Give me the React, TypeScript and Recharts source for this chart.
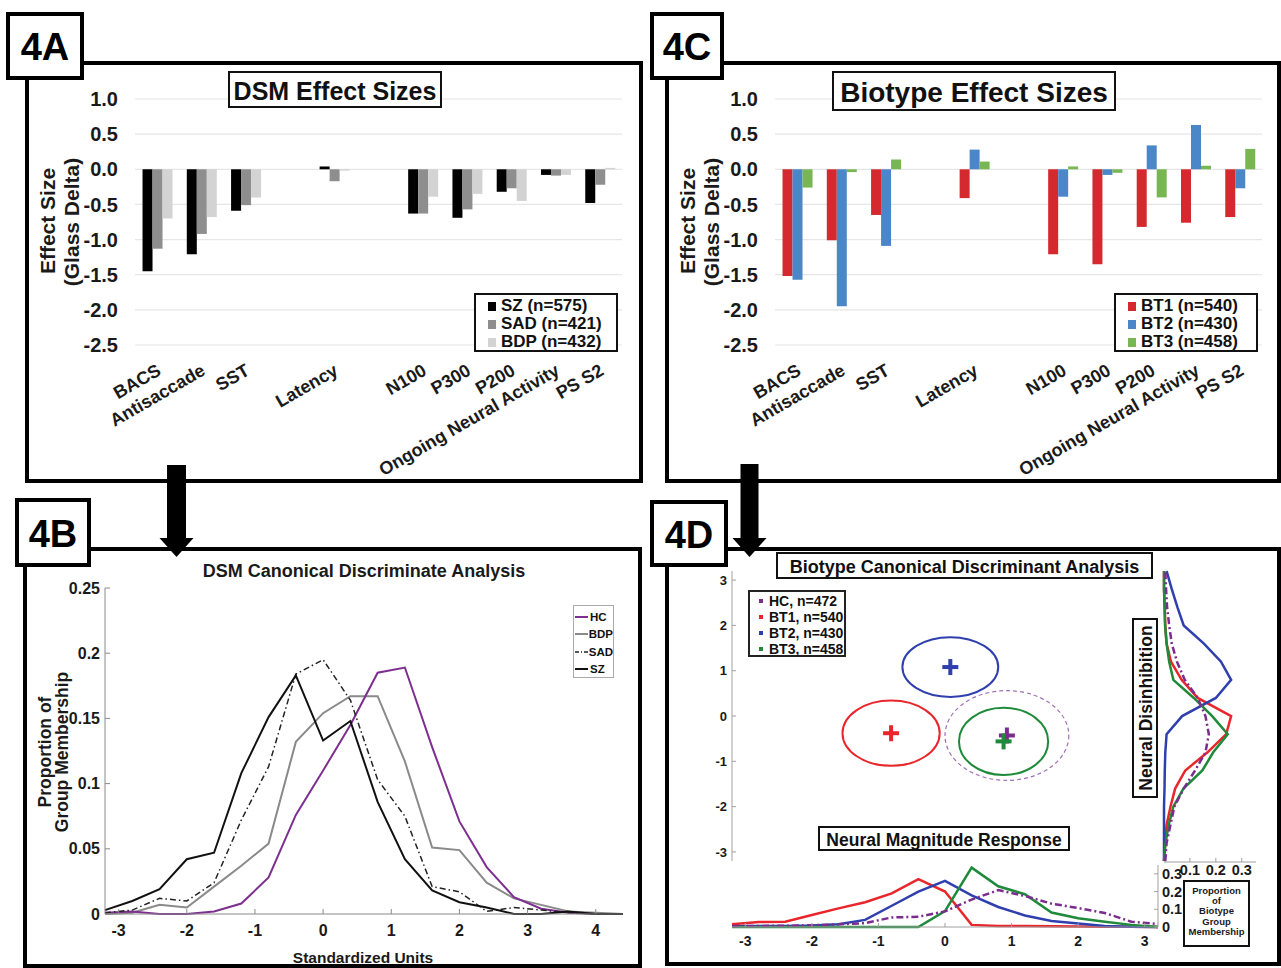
import React from "react";
import {
  Bar,
  BarChart,
  CartesianGrid,
  Legend,
  Line,
  LineChart,
  ReferenceArea,
  Scatter,
  ScatterChart,
  XAxis,
  YAxis,
} from "recharts";

const FONT = '"Liberation Sans", Arial, Helvetica, sans-serif';

// ---------- 4A / 4C effect sizes ----------
const tasks = [
  "BACS",
  "Antisaccade",
  "SST",
  "gap1",
  "Latency",
  "gap2",
  "N100",
  "P300",
  "P200",
  "Ongoing Neural Activity",
  "PS S2",
];
const effectTicks = [1, 0.5, 0, -0.5, -1, -1.5, -2, -2.5];

const szEffect = [-1.45, -1.21, -0.59, null, 0.04, null, -0.63, -0.69, -0.32, -0.08, -0.48];
const sadEffect = [-1.13, -0.92, -0.51, null, -0.17, null, -0.63, -0.57, -0.27, -0.09, -0.22];
const bdpEffect = [-0.7, -0.68, -0.4, null, -0.02, null, -0.39, -0.35, -0.45, -0.08, 0.02];

const bt1Effect = [-1.52, -1.01, -0.65, null, -0.41, null, -1.21, -1.35, -0.82, -0.76, -0.68];
const bt2Effect = [-1.57, -1.95, -1.09, null, 0.28, null, -0.39, -0.08, 0.34, 0.63, -0.27];
const bt3Effect = [-0.26, -0.04, 0.14, null, 0.11, null, 0.04, -0.05, -0.4, 0.05, 0.29];

const dsmLabels = ["SZ (n=575)", "SAD (n=421)", "BDP (n=432)"];
const dsmColors = ["#000000", "#8e8e8e", "#d3d3d3"];
const btLabels = ["BT1 (n=540)", "BT2 (n=430)", "BT3 (n=458)"];
const btColors = ["#d42a2f", "#4b86c8", "#77b653"];

const dsmRows = tasks.map((task, i) => ({ task, g0: szEffect[i], g1: sadEffect[i], g2: bdpEffect[i] }));
const btRows = tasks.map((task, i) => ({ task, g0: bt1Effect[i], g1: bt2Effect[i], g2: bt3Effect[i] }));

// ---------- 4B DSM canonical discriminant ----------
const dsmUnits = [-3.2, -2.8, -2.4, -2.0, -1.6, -1.2, -0.8, -0.4, 0, 0.4, 0.8, 1.2, 1.6, 2.0, 2.4, 2.8, 3.2, 3.6, 4.0, 4.4];
const hcDist = [0.001, 0.002, 0, 0, 0.002, 0.008, 0.028, 0.076, 0.11, 0.145, 0.185, 0.189, 0.128, 0.071, 0.036, 0.013, 0.004, 0.001, 0, 0];
const bdpDist = [0, 0.001, 0.007, 0.005, 0.021, 0.037, 0.054, 0.132, 0.154, 0.167, 0.167, 0.117, 0.051, 0.049, 0.024, 0.012, 0.007, 0.002, 0.001, 0];
const sadDist = [0.001, 0.003, 0.012, 0.01, 0.024, 0.072, 0.113, 0.184, 0.195, 0.164, 0.103, 0.075, 0.021, 0.017, 0.002, 0.005, 0.003, 0.001, 0, 0];
const szDist = [0.003, 0.01, 0.019, 0.042, 0.047, 0.108, 0.151, 0.183, 0.133, 0.148, 0.086, 0.042, 0.018, 0.009, 0.005, 0, 0, 0.002, 0, 0];
const dsmLineRows = dsmUnits.map((u, i) => ({ u, hc: hcDist[i], bdp: bdpDist[i], sad: sadDist[i], sz: szDist[i] }));
const dsmLineTicks = [-3, -2, -1, 0, 1, 2, 3, 4];
const propTicks = [0, 0.05, 0.1, 0.15, 0.2, 0.25];

// ---------- 4D biotype canonical discriminant ----------
const btGroupNames = ["HC, n=472", "BT1, n=540", "BT2, n=430", "BT3, n=458"];
const btGroupColors = ["#7b2d8e", "#e8262b", "#2f3fae", "#1f8a3a"];
const centroidX = [0.93, -0.81, 0.08, 0.88];
const centroidY = [-0.43, -0.38, 1.08, -0.56];
const spreadX = [0.93, 0.73, 0.72, 0.67];
const spreadY = [0.99, 0.72, 0.66, 0.74];
const scatterTicks = [-3, -2, -1, 0, 1, 2, 3];

const marginUnits = [-3.2, -2.8, -2.4, -2.0, -1.6, -1.2, -0.8, -0.4, 0, 0.4, 0.8, 1.2, 1.6, 2.0, 2.4, 2.8, 3.2];
// Neural magnitude response (bottom marginal)
const nmrHC = [0.005, 0.006, 0.007, 0.01, 0.015, 0.022, 0.054, 0.058, 0.088, 0.155, 0.208, 0.175, 0.132, 0.107, 0.079, 0.03, 0.017];
const nmrBT1 = [0.015, 0.028, 0.03, 0.068, 0.105, 0.14, 0.19, 0.27, 0.2, 0.012, 0.006, 0.005, 0.004, 0.003, 0.002, 0.001, 0];
const nmrBT2 = [0.004, 0.005, 0.006, 0.008, 0.015, 0.04, 0.12, 0.2, 0.26, 0.178, 0.113, 0.065, 0.034, 0.02, 0.006, 0.002, 0];
const nmrBT3 = [0, 0, 0, 0, 0, 0, 0, 0, 0.09, 0.335, 0.23, 0.185, 0.082, 0.05, 0.03, 0.012, 0];
// Neural disinhibition (right marginal)
const ndHC = [0.005, 0.01, 0.025, 0.04, 0.076, 0.12, 0.16, 0.173, 0.16, 0.13, 0.08, 0.05, 0.03, 0.02, 0.012, 0.008, 0.005];
const ndBT1 = [0, 0.004, 0.01, 0.025, 0.043, 0.082, 0.168, 0.24, 0.259, 0.13, 0.068, 0.027, 0.01, 0.005, 0.003, 0, 0];
const ndBT2 = [0, 0, 0, 0, 0.002, 0.003, 0.005, 0.01, 0.07, 0.2, 0.259, 0.22, 0.154, 0.076, 0.052, 0.03, 0.01];
const ndBT3 = [0, 0.006, 0.018, 0.036, 0.075, 0.148, 0.19, 0.246, 0.186, 0.115, 0.036, 0.02, 0.01, 0.004, 0.002, 0, 0];
const nmrRows = marginUnits.map((u, i) => ({ u, hc: nmrHC[i], bt1: nmrBT1[i], bt2: nmrBT2[i], bt3: nmrBT3[i] }));
const ndRows = marginUnits.map((u, i) => ({ u, hc: ndHC[i], bt1: ndBT1[i], bt2: ndBT2[i], bt3: ndBT3[i] }));
const marginPropTicks = [0, 0.1, 0.2, 0.3];
const sidePropTicks = [0.1, 0.2, 0.3];

const boldTick = (size: number) => ({ fontSize: size, fontWeight: 700, fill: "#1a1a1a", fontFamily: FONT });

function TaskTick({ x, y, payload }: any) {
  const name = String(payload.value);
  if (name.startsWith("gap")) return <g />;
  const ax = x + 5;
  const ay = y + 29;
  return (
    <text
      x={ax}
      y={ay}
      transform={`rotate(-30 ${ax} ${ay})`}
      textAnchor="end"
      fontFamily={FONT}
      fontWeight={700}
      fontSize={18}
      fill="#1a1a1a"
    >
      {name}
    </text>
  );
}

function SquareLegend({ labels, colors }: { labels: string[]; colors: string[] }) {
  return (
    <div
      style={{
        width: 144,
        height: 59,
        boxSizing: "border-box",
        border: "2px solid #111",
        background: "#fff",
        paddingLeft: 12,
        paddingTop: 2,
        fontFamily: FONT,
        fontWeight: 700,
        fontSize: 17,
        color: "#111",
      }}
    >
      {labels.map((l, i) => (
        <div key={l} style={{ display: "flex", alignItems: "center", height: 18, whiteSpace: "nowrap" }}>
          <span style={{ display: "inline-block", width: 8, height: 9, background: colors[i], marginRight: 5 }} />
          <span>{l}</span>
        </div>
      ))}
    </div>
  );
}

function EffectChart({ rows, colors, labels }: { rows: any[]; colors: string[]; labels: string[] }) {
  return (
    <BarChart
      width={640}
      height={480}
      data={rows}
      margin={{ top: 99, right: 18, bottom: 0, left: 0 }}
      barCategoryGap="17%"
      barGap={0}
    >
      <CartesianGrid vertical={false} stroke="#e6e6e6" strokeWidth={1.2} />
      <XAxis
        dataKey="task"
        height={135}
        axisLine={false}
        tickLine={false}
        tickSize={0}
        tickMargin={0}
        interval={0}
        tick={(p: any) => <TaskTick {...p} />}
      />
      <YAxis
        domain={[-2.5, 1]}
        ticks={effectTicks}
        interval={0}
        width={135}
        axisLine={false}
        tickLine={false}
        tickSize={0}
        tickMargin={17}
        tickFormatter={(v: number) => v.toFixed(1)}
        tick={boldTick(20)}
      />
      <Legend
        layout="vertical"
        align="center"
        verticalAlign="middle"
        wrapperStyle={{ left: 474, top: 293, width: 144, height: 59 }}
        content={() => <SquareLegend labels={labels} colors={colors} />}
      />
      {["g0", "g1", "g2"].map((k, i) => (
        <Bar key={k} dataKey={k} fill={colors[i]} isAnimationActive={false} />
      ))}
    </BarChart>
  );
}

const dsmLineStyles = [
  { key: "hc", name: "HC", color: "#7d2f8f", width: 2, dash: undefined as string | undefined },
  { key: "bdp", name: "BDP", color: "#8a8a8a", width: 2, dash: undefined },
  { key: "sad", name: "SAD", color: "#222222", width: 1.5, dash: "6 3 1.5 3" },
  { key: "sz", name: "SZ", color: "#111111", width: 2, dash: undefined },
];

function DsmLegend() {
  return (
    <div
      style={{
        width: 41,
        height: 73,
        boxSizing: "border-box",
        border: "1px solid #aaa",
        background: "#fff",
        paddingTop: 2,
        fontFamily: FONT,
        fontWeight: 700,
        fontSize: 11.5,
        color: "#111",
      }}
    >
      {dsmLineStyles.map((s) => (
        <div key={s.key} style={{ display: "flex", alignItems: "center", height: 17.5 }}>
          <svg width={14} height={6} style={{ marginLeft: 1 }}>
            <line x1={0} y1={3} x2={13} y2={3} stroke={s.color} strokeWidth={s.width} strokeDasharray={s.dash ? "4 2 1 2" : undefined} />
          </svg>
          <span style={{ marginLeft: 1 }}>{s.name}</span>
        </div>
      ))}
    </div>
  );
}

function DsmDistributionChart() {
  return (
    <LineChart width={640} height={428} data={dsmLineRows} margin={{ top: 48, right: 17, bottom: 0, left: 0 }}>
      <XAxis
        dataKey="u"
        type="number"
        domain={[-3.2, 4.4]}
        ticks={dsmLineTicks}
        interval={0}
        height={54}
        tickSize={-5}
        tickMargin={16}
        axisLine={{ stroke: "#8a8a8a" }}
        tickLine={{ stroke: "#8a8a8a" }}
        tick={boldTick(16)}
      />
      <XAxis
        xAxisId="top"
        orientation="top"
        dataKey="u"
        type="number"
        domain={[-3.2, 4.4]}
        ticks={dsmLineTicks}
        interval={0}
        height={0}
        tick={false}
        tickSize={-5}
        axisLine={{ stroke: "#c4c4c4" }}
        tickLine={{ stroke: "#aaa" }}
      />
      <YAxis
        domain={[0, 0.25]}
        ticks={propTicks}
        interval={0}
        width={105}
        tickSize={-5}
        tickMargin={10}
        axisLine={{ stroke: "#8a8a8a" }}
        tickLine={{ stroke: "#8a8a8a" }}
        tick={boldTick(16)}
      />
      <YAxis
        yAxisId="r"
        orientation="right"
        domain={[0, 0.25]}
        ticks={propTicks}
        interval={0}
        width={0}
        tick={false}
        tickSize={-5}
        axisLine={{ stroke: "#c4c4c4" }}
        tickLine={{ stroke: "#aaa" }}
      />
      <Legend
        layout="vertical"
        align="center"
        verticalAlign="middle"
        wrapperStyle={{ left: 573, top: 65, width: 41, height: 73 }}
        content={() => <DsmLegend />}
      />
      {[1, 0, 2, 3].map((i) => {
        const s = dsmLineStyles[i];
        return (
          <Line
            key={s.key}
            dataKey={s.key}
            stroke={s.color}
            strokeWidth={s.width}
            strokeDasharray={s.dash}
            dot={false}
            isAnimationActive={false}
          />
        );
      })}
    </LineChart>
  );
}

function BiotypeLegend() {
  return (
    <div
      style={{
        width: 98,
        height: 67,
        boxSizing: "border-box",
        border: "2px solid #222",
        background: "#fff",
        paddingLeft: 9,
        paddingTop: 1,
        fontFamily: FONT,
        fontWeight: 700,
        fontSize: 14,
        color: "#111",
      }}
    >
      {btGroupNames.map((n, i) => (
        <div key={n} style={{ display: "flex", alignItems: "center", height: 16 }}>
          <span style={{ display: "inline-block", width: 4, height: 4, background: btGroupColors[i], marginRight: 6 }} />
          <span>{n}</span>
        </div>
      ))}
    </div>
  );
}

const PlusShape = (color: string) => (p: any) => (
  <g>
    <line x1={p.cx - 8} x2={p.cx + 8} y1={p.cy} y2={p.cy} stroke={color} strokeWidth={4} />
    <line x1={p.cx} x2={p.cx} y1={p.cy - 8} y2={p.cy + 8} stroke={color} strokeWidth={4} />
  </g>
);

function CentroidChart() {
  const order = [1, 2, 0, 3];
  return (
    <ScatterChart width={480} height={330} margin={{ top: 31, right: 2, bottom: 9, left: 0 }}>
      <XAxis type="number" dataKey="x" domain={[-3.2, 3.2]} hide />
      <YAxis
        type="number"
        dataKey="y"
        domain={[-3.2, 3.2]}
        ticks={scatterTicks}
        interval={0}
        width={52}
        tickSize={-4}
        tickMargin={9}
        axisLine={{ stroke: "#a0a0a0" }}
        tickLine={{ stroke: "#a0a0a0" }}
        tick={boldTick(13)}
      />
      {order.map((i) => (
        <ReferenceArea
          key={`e${i}`}
          x1={centroidX[i] - spreadX[i]}
          x2={centroidX[i] + spreadX[i]}
          y1={centroidY[i] - spreadY[i]}
          y2={centroidY[i] + spreadY[i]}
          ifOverflow="visible"
          shape={(p: any) => (
            <ellipse
              cx={p.x + p.width / 2}
              cy={p.y + p.height / 2}
              rx={p.width / 2}
              ry={p.height / 2}
              fill="none"
              stroke={i === 0 ? "#a070b8" : btGroupColors[i]}
              strokeWidth={i === 0 ? 1.2 : 2}
              strokeDasharray={i === 0 ? "4 3" : undefined}
            />
          )}
        />
      ))}
      <Legend
        layout="vertical"
        align="center"
        verticalAlign="middle"
        wrapperStyle={{ left: 68, top: 50, width: 98, height: 67 }}
        content={() => <BiotypeLegend />}
      />
      {order.map((i) => (
        <Scatter
          key={`c${i}`}
          data={[{ x: centroidX[i], y: centroidY[i] }]}
          fill={btGroupColors[i]}
          shape={PlusShape(btGroupColors[i])}
          isAnimationActive={false}
        />
      ))}
    </ScatterChart>
  );
}

const marginLines = [
  { key: "hc", color: "#7b2d8e", dash: "7 3 2 3" },
  { key: "bt1", color: "#e8262b", dash: undefined as string | undefined },
  { key: "bt2", color: "#2f3fae", dash: undefined },
  { key: "bt3", color: "#1f8a3a", dash: undefined },
];
const marginOrder = [1, 2, 3, 0];

function MagnitudeMarginal() {
  return (
    <LineChart width={560} height={107} data={nmrRows} margin={{ top: 15, right: 42, bottom: 0, left: 32 }}>
      <XAxis
        dataKey="u"
        type="number"
        domain={[-3.2, 3.2]}
        ticks={scatterTicks}
        interval={0}
        height={30}
        tickSize={-4}
        tickMargin={13}
        axisLine={{ stroke: "#a0a0a0" }}
        tickLine={{ stroke: "#a0a0a0" }}
        tick={boldTick(14)}
      />
      <XAxis
        xAxisId="top"
        orientation="top"
        dataKey="u"
        type="number"
        domain={[-3.2, 3.2]}
        ticks={scatterTicks}
        interval={0}
        height={0}
        tick={false}
        tickSize={-4}
        axisLine={{ stroke: "#a0a0a0" }}
        tickLine={{ stroke: "#a0a0a0" }}
      />
      <YAxis
        orientation="right"
        domain={[0, 0.35]}
        ticks={marginPropTicks}
        interval={0}
        width={60}
        tickSize={-4}
        tickMargin={8}
        axisLine={{ stroke: "#a0a0a0" }}
        tickLine={{ stroke: "#a0a0a0" }}
        tick={{ ...boldTick(14.5), textAnchor: "start" }}
      />
      <YAxis
        yAxisId="l"
        domain={[0, 0.35]}
        ticks={marginPropTicks}
        interval={0}
        width={0}
        tick={false}
        tickSize={-4}
        axisLine={{ stroke: "#a0a0a0" }}
        tickLine={{ stroke: "#a0a0a0" }}
      />
      {marginOrder.map((i) => (
        <Line
          key={marginLines[i].key}
          dataKey={marginLines[i].key}
          stroke={marginLines[i].color}
          strokeWidth={2.5}
          strokeDasharray={marginLines[i].dash}
          dot={false}
          isAnimationActive={false}
        />
      ))}
    </LineChart>
  );
}

function DisinhibitionMarginal() {
  return (
    <LineChart
      layout="vertical"
      width={131}
      height={342}
      data={ndRows}
      margin={{ top: 12, right: 25, bottom: 0, left: 14 }}
    >
      <XAxis
        type="number"
        domain={[0, 0.355]}
        ticks={sidePropTicks}
        interval={0}
        height={30}
        tickSize={-4}
        tickMargin={7}
        axisLine={{ stroke: "#a0a0a0" }}
        tickLine={{ stroke: "#a0a0a0" }}
        tick={boldTick(14.5)}
      />
      <XAxis
        xAxisId="top"
        orientation="top"
        type="number"
        domain={[0, 0.355]}
        ticks={sidePropTicks}
        interval={0}
        height={0}
        tick={false}
        tickSize={-4}
        axisLine={{ stroke: "#a0a0a0" }}
        tickLine={{ stroke: "#a0a0a0" }}
      />
      <YAxis
        type="number"
        dataKey="u"
        domain={[-3.22, 3.4]}
        ticks={scatterTicks}
        interval={0}
        reversed
        width={0}
        tick={false}
        tickSize={-4}
        axisLine={{ stroke: "#a0a0a0" }}
        tickLine={{ stroke: "#a0a0a0" }}
      />
      <YAxis
        yAxisId="r"
        orientation="right"
        type="number"
        dataKey="u"
        domain={[-3.22, 3.4]}
        ticks={scatterTicks}
        interval={0}
        reversed
        width={0}
        tick={false}
        tickSize={-4}
        axisLine={{ stroke: "#a0a0a0" }}
        tickLine={{ stroke: "#a0a0a0" }}
      />
      {marginOrder.map((i) => (
        <Line
          key={marginLines[i].key}
          dataKey={marginLines[i].key}
          stroke={marginLines[i].color}
          strokeWidth={2.5}
          strokeDasharray={marginLines[i].dash}
          dot={false}
          isAnimationActive={false}
        />
      ))}
    </LineChart>
  );
}

function Frame({ x1, y1, x2, y2 }: { x1: number; y1: number; x2: number; y2: number }) {
  return (
    <div
      style={{
        position: "absolute",
        left: x1,
        top: y1,
        width: x2 - x1,
        height: y2 - y1,
        border: "4px solid #000",
        boxSizing: "border-box",
      }}
    />
  );
}

function Tag({ x1, y1, x2, y2, text }: { x1: number; y1: number; x2: number; y2: number; text: string }) {
  return (
    <g>
      <rect x={x1 + 2} y={y1 + 2} width={x2 - x1 - 4} height={y2 - y1 - 4} fill="#fff" stroke="#000" strokeWidth={4} />
      <text
        x={(x1 + x2) / 2}
        y={(y1 + y2) / 2 + 1}
        textAnchor="middle"
        dominantBaseline="central"
        fontFamily={FONT}
        fontWeight={700}
        fontSize={38}
        fill="#000"
      >
        {text}
      </text>
    </g>
  );
}

function BoxedText({
  x1, y1, x2, y2, text, size, vertical, sw = 2,
}: { x1: number; y1: number; x2: number; y2: number; text: string; size: number; vertical?: boolean; sw?: number }) {
  const cx = (x1 + x2) / 2;
  const cy = (y1 + y2) / 2;
  return (
    <g>
      <rect x={x1} y={y1} width={x2 - x1} height={y2 - y1} fill="#fff" stroke="#111" strokeWidth={sw} />
      <text
        x={cx}
        y={cy + 1}
        textAnchor="middle"
        dominantBaseline="central"
        fontFamily={FONT}
        fontWeight={700}
        fontSize={size}
        fill="#111"
        transform={vertical ? `rotate(-90 ${cx} ${cy})` : undefined}
      >
        {text}
      </text>
    </g>
  );
}

function Txt({ x, y, text, size, rotate }: { x: number; y: number; text: string; size: number; rotate?: boolean }) {
  return (
    <text
      x={x}
      y={y}
      textAnchor="middle"
      dominantBaseline="central"
      fontFamily={FONT}
      fontWeight={700}
      fontSize={size}
      fill="#1a1a1a"
      transform={rotate ? `rotate(-90 ${x} ${y})` : undefined}
    >
      {text}
    </text>
  );
}

function Arrow({ x, top, w, headW, base, tip }: { x: number; top: number; w: number; headW: number; base: number; tip: number }) {
  return (
    <g fill="#000">
      <rect x={x - w / 2} y={top} width={w} height={base - top + 1} />
      <polygon points={`${x - headW / 2},${base} ${x + headW / 2},${base} ${x},${tip}`} />
    </g>
  );
}

const membershipLines = ["Proportion", "of", "Biotype", "Group", "Membership"];

export default function App() {
  return (
    <div style={{ position: "absolute", left: 0, top: 0, width: 1281, height: 968, background: "#fff", overflow: "hidden" }}>
      <Frame x1={25} y1={61} x2={643} y2={483} />
      <Frame x1={665} y1={61} x2={1281} y2={483} />
      <Frame x1={23} y1={547} x2={642} y2={968} />
      <Frame x1={665} y1={547} x2={1281} y2={966} />

      <div style={{ position: "absolute", left: 0, top: 0 }}>
        <EffectChart rows={dsmRows} colors={dsmColors} labels={dsmLabels} />
      </div>
      <div style={{ position: "absolute", left: 640, top: 0 }}>
        <EffectChart rows={btRows} colors={btColors} labels={btLabels} />
      </div>
      <div style={{ position: "absolute", left: 0, top: 540 }}>
        <DsmDistributionChart />
      </div>
      <div style={{ position: "absolute", left: 680, top: 540 }}>
        <CentroidChart />
      </div>
      <div style={{ position: "absolute", left: 700, top: 850 }}>
        <MagnitudeMarginal />
      </div>
      <div style={{ position: "absolute", left: 1150, top: 550 }}>
        <DisinhibitionMarginal />
      </div>

      <svg width={1281} height={968} style={{ position: "absolute", left: 0, top: 0, pointerEvents: "none" }}>
        <Tag x1={6} y1={12} x2={84} y2={80} text="4A" />
        <Tag x1={650} y1={12} x2={724} y2={80} text="4C" />
        <Tag x1={15} y1={498} x2={91} y2={567} text="4B" />
        <Tag x1={650} y1={500} x2={728} y2={567} text="4D" />

        <Arrow x={176.5} top={465} w={19} headW={34} base={538} tip={557} />
        <Arrow x={749.5} top={464} w={18} headW={34} base={538} tip={557} />

        <BoxedText x1={229} y1={72} x2={441} y2={107} text="DSM Effect Sizes" size={25} />
        <BoxedText x1={833} y1={72} x2={1115} y2={110} text="Biotype Effect Sizes" size={28} />
        <Txt x={47} y={221} text="Effect Size" size={21} rotate />
        <Txt x={71} y={222} text="(Glass Delta)" size={21} rotate />
        <Txt x={687} y={221} text="Effect Size" size={21} rotate />
        <Txt x={711} y={222} text="(Glass Delta)" size={21} rotate />

        <Txt x={364} y={571} text="DSM Canonical Discriminate Analysis" size={18} />
        <Txt x={45} y={752} text="Proportion of" size={17.5} rotate />
        <Txt x={62} y={752} text="Group Membership" size={17.5} rotate />
        <Txt x={363} y={957} text="Standardized Units" size={15.5} />

        <BoxedText x1={777} y1={553} x2={1152} y2={578} text="Biotype Canonical Discriminant Analysis" size={18} />
        <BoxedText x1={819} y1={827} x2={1069} y2={850} text="Neural Magnitude Response" size={17.5} />
        <BoxedText x1={1133} y1={619} x2={1157} y2={797} text="Neural Disinhibition" size={17.5} vertical />
        <rect x={1184} y={881} width={65} height={65} fill="#fff" stroke="#111" strokeWidth={2} />
        {membershipLines.map((l, i) => (
          <Txt key={l} x={1216.5} y={890 + i * 10.4} text={l} size={9.5} />
        ))}
      </svg>
    </div>
  );
}
